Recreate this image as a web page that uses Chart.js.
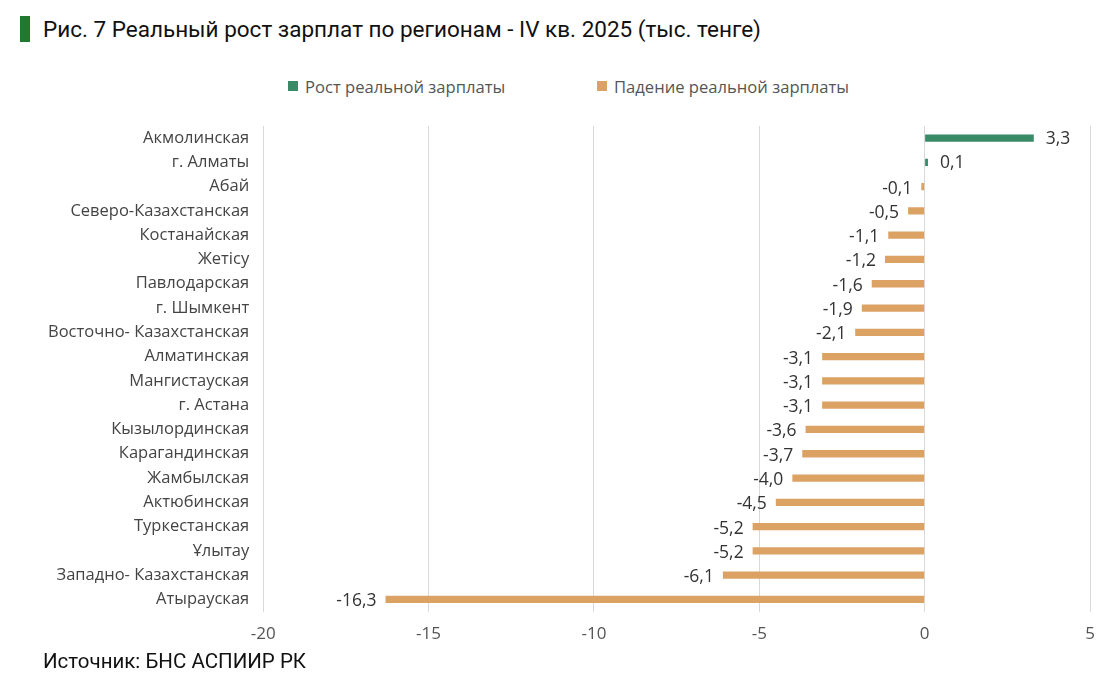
<!DOCTYPE html>
<html>
<head>
<meta charset="utf-8">
<script src="https://cdn.jsdelivr.net/npm/chart.js@4.4.0/dist/chart.umd.min.js"></script>
<style>
  html, body { margin: 0; padding: 0; background: #fff; }
  #wrap { position: relative; width: 1120px; height: 681px; overflow: hidden; }
  #title { position: absolute; left: 20px; top: 15px; height: 27px; display: flex; align-items: center;
           font-family: Roboto, "Noto Sans", sans-serif; font-size: 22.5px; color: #111; }
  #title .mark { display: inline-block; width: 10px; height: 26px; background: #1f7a2e; margin-right: 13px; }
  #legend { position: absolute; top: 75px; left: 0; width: 1120px; height: 22px;
            font-family: "Open Sans", "Noto Sans", sans-serif; font-size: 16.6px; color: #555; }
  #legend .item { position: absolute; top: 0; display: flex; align-items: center; height: 22px; white-space: nowrap; }
  #legend .sw { display: inline-block; width: 10px; height: 10px; margin-right: 7px; }
  #source { position: absolute; left: 43px; top: 649px; font-family: Roboto, "Noto Sans", sans-serif;
            font-size: 20.5px; color: #111; }
  #chartBox { position: absolute; left: 0; top: 102px; width: 1120px; height: 554px; }
</style>
</head>
<body>
<div id="wrap">
  <div id="title"><span class="mark"></span>Рис. 7 Реальный рост зарплат по регионам - IV кв. 2025 (тыс. тенге)</div>
  <div id="legend"></div>
  <div id="chartBox"><canvas id="c"></canvas></div>
  <div id="source">Источник: БНС АСПИИР РК</div>
</div>
<script>
const regions = [
  "Акмолинская", "г. Алматы", "Абай", "Северо-Казахстанская", "Костанайская", "Жетісу",
  "Павлодарская", "г. Шымкент", "Восточно- Казахстанская", "Алматинская", "Мангистауская",
  "г. Астана", "Кызылординская", "Карагандинская", "Жамбылская", "Актюбинская",
  "Туркестанская", "Ұлытау", "Западно- Казахстанская", "Атырауская"
];
const growth = [3.3, 0.1, null, null, null, null, null, null, null, null, null, null, null, null, null, null, null, null, null, null];
const decline = [null, null, -0.1, -0.5, -1.1, -1.2, -1.6, -1.9, -2.1, -3.1, -3.1, -3.1, -3.6, -3.7, -4.0, -4.5, -5.2, -5.2, -6.1, -16.3];
const xTicks = [-20, -15, -10, -5, 0, 5];
const seriesNames = ['Рост реальной зарплаты', 'Падение реальной зарплаты'];
const seriesColors = ['#3a8a68', '#dca264'];
const legendX = [288, 597];

const FONT = '"Open Sans", "Noto Sans", sans-serif';

// HTML legend
const lg = document.getElementById('legend');
seriesNames.forEach((n, i) => {
  const d = document.createElement('div');
  d.className = 'item';
  d.style.left = legendX[i] + 'px';
  d.innerHTML = '<span class="sw" style="background:' + seriesColors[i] + '"></span>' + n;
  lg.appendChild(d);
});

const valueLabels = {
  id: 'valueLabels',
  afterDatasetsDraw(chart) {
    const ctx = chart.ctx;
    ctx.save();
    ctx.font = '17.5px ' + FONT;
    ctx.fillStyle = '#333';
    ctx.textBaseline = 'middle';
    chart.data.datasets.forEach((ds, di) => {
      const meta = chart.getDatasetMeta(di);
      meta.data.forEach((el, i) => {
        const v = ds.data[i];
        if (v === null || v === undefined) return;
        const txt = v.toFixed(1).replace('.', ',');
        if (v >= 0) { ctx.textAlign = 'left'; ctx.fillText(txt, el.x + 12, el.y + 1); }
        else { ctx.textAlign = 'right'; ctx.fillText(txt, el.x - 9, el.y + 2); }
      });
    });
    ctx.restore();
  }
};

new Chart(document.getElementById('c'), {
  type: 'bar',
  data: {
    labels: regions,
    datasets: [
      { label: seriesNames[0], data: growth, backgroundColor: seriesColors[0], barPercentage: 0.3, categoryPercentage: 1.0 },
      { label: seriesNames[1], data: decline, backgroundColor: seriesColors[1], barPercentage: 0.3, categoryPercentage: 1.0 }
    ]
  },
  options: {
    indexAxis: 'y',
    responsive: true,
    maintainAspectRatio: false,
    animation: false,
    layout: { padding: { left: 34, right: 30, top: 15, bottom: 0 } },
    plugins: {
      legend: { display: false },
      tooltip: { enabled: false }
    },
    scales: {
      x: {
        min: -20, max: 5,
        afterBuildTicks(axis) { axis.ticks = xTicks.map(v => ({ value: v })); },
        grid: { color: '#d9d9d9', drawTicks: false, lineWidth: 1 },
        border: { display: false },
        ticks: { color: '#555', padding: 12, font: { family: FONT, size: 17 } }
      },
      y: {
        stacked: true,
        grid: { display: false, drawTicks: false },
        border: { display: false },
        ticks: { color: '#444', padding: 14, font: { family: FONT, size: 16.5 }, autoSkip: false }
      }
    }
  },
  plugins: [valueLabels]
});
</script>
</body>
</html>
